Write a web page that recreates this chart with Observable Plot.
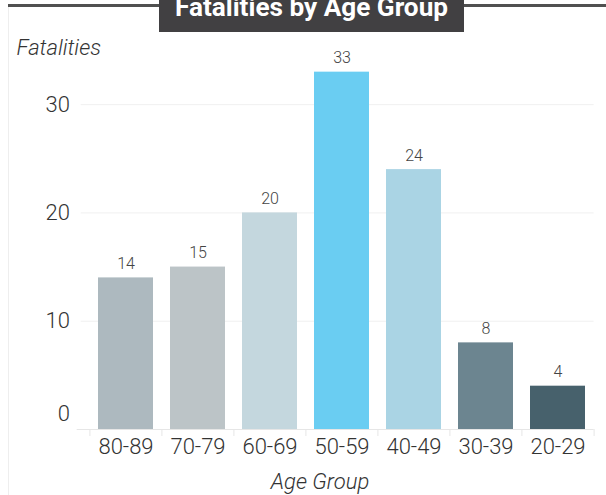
<!DOCTYPE html>
<html>
<head>
<meta charset="utf-8">
<script src="https://cdn.jsdelivr.net/npm/d3@7"></script>
<script src="https://cdn.jsdelivr.net/npm/@observablehq/plot@0.6"></script>
<style>
  html, body { margin: 0; padding: 0; background: #fff; }
  #chart { position: relative; width: 606px; height: 495px; overflow: hidden; }
  #chart > svg { position: absolute; left: 0; top: 0; }
</style>
</head>
<body>
<div id="chart"></div>
<script>
// Fatalities per age group
const title = "Fatalities by Age Group";
const ageGroups = ["80-89", "70-79", "60-69", "50-59", "40-49", "30-39", "20-29"];
const fatalities = [14, 15, 20, 33, 24, 8, 4];
const barColors = ["#adb9bf", "#bcc4c7", "#c4d7de", "#6acdf2", "#aad4e4", "#6c8590", "#47616c"];
const yTicks = [0, 10, 20, 30];
const yLabel = "Fatalities";
const xLabel = "Age Group";

const data = ageGroups.map((group, i) => ({group, value: fatalities[i], color: barColors[i]}));

const W = 606, H = 495;
const mL = 88.4, mR = 12.4, mT = 50, mB = 66;
const step = (W - mL - mR) / ageGroups.length;
const font = "Roboto, 'Liberation Sans', sans-serif";
const textColor = "#333333";

const plot = Plot.plot({
  width: W,
  height: H,
  marginLeft: mL,
  marginRight: mR,
  marginTop: mT,
  marginBottom: mB,
  style: {fontFamily: font, background: "transparent", overflow: "visible"},
  x: {domain: ageGroups, paddingInner: 0.24, paddingOuter: 0.12, axis: null},
  y: {domain: [0, 35], axis: null},
  color: {type: "identity"},
  marks: [
    // horizontal gridlines
    Plot.ruleY(yTicks.filter(d => d > 0), {stroke: "#f0f0f0", strokeWidth: 1, insetLeft: -7.7}),
    // baseline
    Plot.ruleY([0], {stroke: "#e6e6e6", strokeWidth: 1, insetLeft: -11.7}),
    // separators between categories
    Plot.axisX({tickSize: 7, tickFormat: () => "", label: null, dx: -step / 2, stroke: "#e6e6e6"}),
    Plot.axisX({ticks: [ageGroups[ageGroups.length - 1]], tickSize: 7, tickFormat: () => "", label: null, dx: step / 2, stroke: "#e6e6e6"}),
    // bars
    Plot.barY(data, {x: "group", y: "value", fill: "color"}),
    // value labels
    Plot.text(data, {
      x: "group", y: "value", text: d => String(d.value),
      dy: -14, lineAnchor: "middle", fontSize: 16, fontWeight: 300, fill: "#444444"
    }),
    // category labels
    Plot.text(ageGroups, {
      x: d => d, text: d => d, frameAnchor: "bottom",
      dy: 17, lineAnchor: "middle", fontSize: 22, fontWeight: 300, fill: textColor
    }),
    // y tick labels
    Plot.text(yTicks.filter(d => d > 0), {
      y: d => d, text: d => String(d), frameAnchor: "left", textAnchor: "end",
      dx: -19, lineAnchor: "middle", fontSize: 22, fontWeight: 300, fill: textColor
    }),
    Plot.text(yTicks.filter(d => d === 0), {
      y: d => d, text: d => String(d), frameAnchor: "left", textAnchor: "end",
      dx: -19, dy: -15.6, lineAnchor: "middle", fontSize: 22, fontWeight: 300, fill: textColor
    }),
    // axis titles
    Plot.text([yLabel], {
      text: d => d, frameAnchor: "top-left", textAnchor: "start",
      dx: -72.4, dy: -2.5, lineAnchor: "middle", fontSize: 22, fontWeight: 300, fontStyle: "italic", fill: textColor
    }),
    Plot.text([xLabel], {
      text: d => d, frameAnchor: "bottom",
      dx: -21.5, dy: 52.5, lineAnchor: "middle", fontSize: 22, fontWeight: 300, fontStyle: "italic", fill: textColor
    })
  ]
});

const chart = document.getElementById("chart");
chart.appendChild(plot);

// panel frame and title banner
const header = d3.select(chart).append("svg")
  .attr("width", W).attr("height", H)
  .style("pointer-events", "none");

header.append("line")
  .attr("x1", 8.5).attr("x2", 8.5).attr("y1", 7).attr("y2", H)
  .attr("stroke", "#eeeeee").attr("stroke-width", 1);

header.append("line")
  .attr("x1", 8).attr("x2", W).attr("y1", 5.5).attr("y2", 5.5)
  .attr("stroke", "#505050").attr("stroke-width", 3);

header.append("rect")
  .attr("x", 159).attr("y", 0).attr("width", 305).attr("height", 32)
  .attr("fill", "#414042");

header.append("text")
  .attr("x", 175).attr("y", 16)
  .attr("textLength", 273).attr("lengthAdjust", "spacingAndGlyphs")
  .attr("font-family", font).attr("font-weight", "bold").attr("font-size", 26)
  .attr("fill", "#ffffff")
  .text(title);
</script>
</body>
</html>
